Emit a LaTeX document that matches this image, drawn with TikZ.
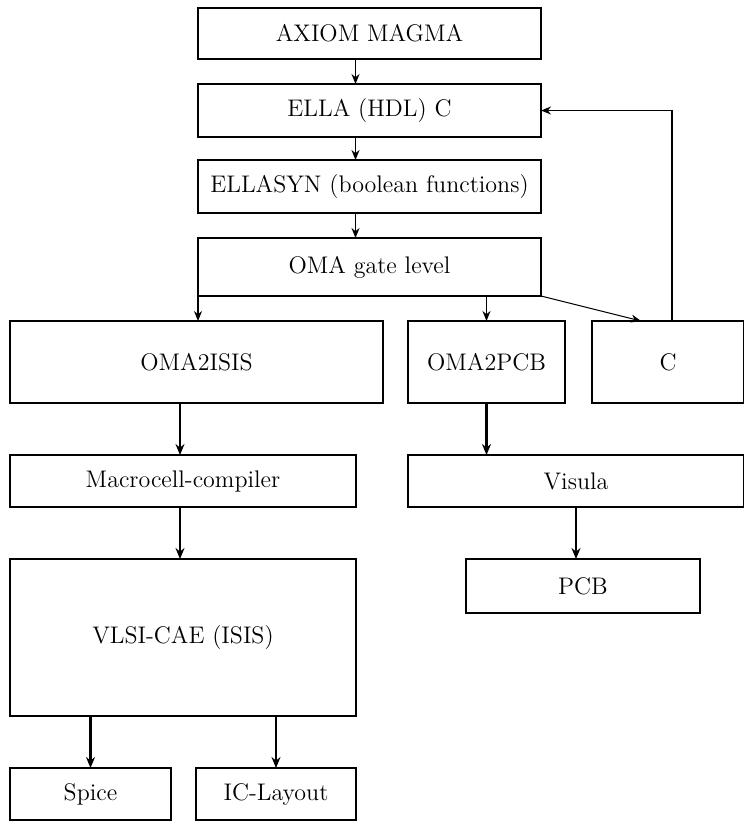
\documentclass[tikz,border=0pt]{standalone}
\usepackage{tikz}
\usetikzlibrary{arrows.meta, calc}

\tikzset{
  blok/.style={draw, line width=1.35pt, inner sep=0pt, outer sep=0pt, font=\large},
  pijl/.style={line width=0.9pt, -{Stealth[length=5pt, width=4pt]}},
  dikpijl/.style={line width=1.2pt, -{Stealth[length=5.5pt, width=4.5pt]}},
  dun/.style={line width=0.5pt, -{Stealth[length=5pt, width=4pt]}}
}

\begin{document}
\begin{tikzpicture}[x=0.5pt, y=-0.5pt]
    \useasboundingbox (0,0) rectangle (744,826);

    % upper chain
    \node[blok, minimum width=171.5pt, minimum height=25.5pt] (axiom) at (369.5,33.5) {AXIOM MAGMA};
    \node[blok, minimum width=171.5pt, minimum height=26.5pt] (ella) at (369.5,110.5) {ELLA (HDL) C};
    \node[blok, minimum width=171.5pt, minimum height=26.5pt] (ellasyn) at (369.5,186.5) {ELLASYN (boolean functions)};
    \node[blok, minimum width=171.5pt, minimum height=29pt] (oma) at (369.5,267) {OMA gate level};

    % middle row
    \node[blok, minimum width=186.5pt, minimum height=41pt] (oma2isis) at (196.5,362) {OMA2ISIS};
    \node[blok, minimum width=78.5pt, minimum height=41pt] (oma2pcb) at (486.5,362) {OMA2PCB};
    \node[blok, minimum width=76pt, minimum height=41pt] (cbox) at (668,362) {C};

    \node[blok, minimum width=173pt, minimum height=26pt] (macro) at (183,481) {Macrocell-compiler};
    \node[blok, minimum width=168pt, minimum height=26pt] (visula) at (576,481) {Visula};

    \node[blok, minimum width=117pt, minimum height=27pt] (pcb) at (583,586) {PCB};
    \node[blok, minimum width=173pt, minimum height=78.5pt] (vlsi) at (183,637.5) {VLSI-CAE (ISIS)};

    \node[blok, minimum width=80.5pt, minimum height=26pt] (spice) at (90.5,794) {Spice};
    \node[blok, minimum width=80pt, minimum height=26pt] (iclayout) at (276,794) {IC-Layout};

    % connectors
    \draw[pijl] ([xshift=-7pt]axiom.south) -- ([xshift=-7pt]ella.north);
    \draw[pijl] ([xshift=-7pt]ella.south) -- ([xshift=-7pt]ellasyn.north);
    \draw[pijl] ([xshift=-7pt]ellasyn.south) -- ([xshift=-7pt]oma.north);

    \draw[pijl] (oma.south west) -- (oma.south west |- oma2isis.north);
    \draw[pijl] (oma.south -| oma2pcb) -- (oma2pcb.north);
    \draw[dun] (oma.south east) -- ([xshift=-13.5pt]cbox.north);
    \draw[pijl] ([xshift=2pt]cbox.north) |- (ella.east);

    \draw[dikpijl] ([xshift=-1.5pt]oma2isis.south -| macro) -- ([xshift=-1.5pt]macro.north);
    \draw[dikpijl] ([xshift=-1.5pt]macro.south) -- ([xshift=-1.5pt]vlsi.north);
    \draw[dikpijl] (oma2pcb) -- (oma2pcb |- visula.north);
    \draw[dikpijl] (visula) -- (visula |- pcb.north);

    \draw[dikpijl] (vlsi.south -| spice) -- (spice);
    \draw[dikpijl] (vlsi.south -| iclayout) -- (iclayout);
\end{tikzpicture}
\end{document}
